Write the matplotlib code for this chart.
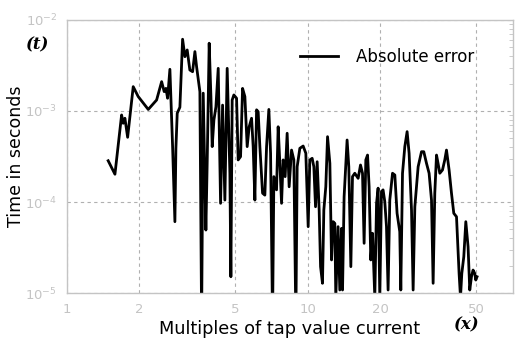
import numpy as np
import matplotlib.pyplot as plt
from matplotlib.ticker import FixedLocator, NullFormatter, LogLocator

plt.rcParams['font.family'] = ['DejaVu Sans']
plt.rcParams['mathtext.default'] = 'regular'

# multiples of tap value current
mult = [1.483, 1.582, 1.686, 1.712, 1.740, 1.786, 1.884, 1.976, 2.175, 2.356,
        2.472, 2.533, 2.575, 2.617, 2.675, 2.745, 2.806, 2.833, 2.869, 2.943,
        3.020, 3.088, 3.156, 3.237, 3.323, 3.397, 3.452, 3.563, 3.587, 3.622,
        3.678, 3.773, 3.820, 3.894, 3.959, 4.008, 4.074, 4.153, 4.245, 4.342,
        4.426, 4.524, 4.625, 4.746, 4.791, 4.851, 4.930, 5.059, 5.137, 5.256,
        5.358, 5.477, 5.599, 5.707, 5.839, 5.929, 6.026, 6.125, 6.219, 6.321,
        6.486, 6.630, 6.739, 6.888, 7.002, 7.136, 7.226, 7.413, 7.528, 7.651,
        7.777, 7.896, 8.049, 8.204, 8.362, 8.556, 8.746, 8.916, 9.028, 9.262,
        9.559, 9.808, 10.03, 10.19, 10.42, 10.59, 10.76, 10.93, 11.14, 11.29,
        11.50, 11.65, 11.87, 12.07, 12.34, 12.54, 12.73, 12.94, 13.06, 13.35,
        13.57, 13.80, 13.93, 14.14, 14.55, 14.79, 15.08, 15.32, 15.66, 16.17,
        16.54, 16.86, 17.12, 17.40, 17.69, 17.96, 18.25, 18.55, 18.96, 19.28,
        19.57, 19.89, 20.21, 20.52, 20.86, 21.20, 21.53, 21.88, 22.46, 22.96,
        23.46, 24.07, 24.31, 24.71, 25.26, 25.82, 26.32, 26.93, 27.35, 27.80,
        28.69, 29.63, 30.28, 31.08, 31.86, 32.60, 33.11, 33.64, 34.20, 34.71,
        35.29, 36.21, 37.01, 37.62, 38.57, 39.46, 40.34, 41.40, 42.44, 43.01,
        43.55, 44.39, 45.25, 46.24, 46.99, 47.76, 48.50, 49.30, 49.77, 50.38]

# absolute error, seconds
abs_err = [2.84e-4, 2.02e-4, 9.04e-4, 7.33e-4, 8.32e-4, 5.14e-4, 1.85e-3, 1.44e-3, 1.04e-3, 1.32e-3,
           2.10e-3, 1.63e-3, 1.77e-3, 1.38e-3, 2.87e-3, 4.06e-4, 6.08e-5, 3.89e-4, 9.44e-4, 1.10e-3,
           6.14e-3, 3.95e-3, 4.68e-3, 2.82e-3, 2.70e-3, 4.49e-3, 3.07e-3, 1.63e-3, 1.30e-4, 5.0e-6,
           1.57e-3, 4.92e-5, 2.66e-4, 5.55e-3, 1.44e-3, 4.06e-4, 7.96e-4, 1.11e-3, 2.94e-3, 9.68e-5,
           1.16e-3, 1.05e-4, 2.94e-3, 2.07e-4, 1.51e-5, 1.32e-3, 1.50e-3, 1.38e-3, 2.90e-4, 3.15e-4,
           1.77e-3, 1.44e-3, 4.06e-4, 6.71e-4, 8.32e-4, 4.06e-4, 1.05e-4, 1.03e-3, 9.82e-4, 4.06e-4,
           1.25e-4, 1.19e-4, 4.06e-4, 1.04e-3, 3.43e-4, 5.0e-6, 1.90e-4, 1.36e-4, 6.71e-4, 2.66e-4,
           9.68e-5, 2.90e-4, 1.90e-4, 5.69e-4, 1.47e-4, 3.72e-4, 2.90e-4, 5.0e-6, 2.44e-4, 3.89e-4,
           4.12e-4, 3.43e-4, 5.36e-5, 2.90e-4, 3.02e-4, 2.44e-4, 8.87e-5, 2.77e-4, 8.17e-5, 1.95e-5,
           1.28e-5, 8.17e-5, 1.47e-4, 5.22e-4, 2.66e-4, 2.31e-5, 6.08e-5, 5.83e-5, 9.0e-6, 5.36e-5,
           1.08e-5, 5.14e-5, 1.08e-5, 1.14e-4, 4.80e-4, 2.44e-4, 1.95e-5, 1.90e-4, 2.07e-4, 1.82e-4,
           2.55e-4, 2.07e-4, 3.52e-5, 2.90e-4, 3.28e-4, 1.47e-4, 2.31e-5, 4.53e-5, 9.0e-6, 9.68e-5,
           1.42e-4, 9.0e-6, 1.30e-4, 1.36e-4, 1.01e-4, 5.36e-5, 1.08e-5, 1.05e-4, 2.07e-4, 1.98e-4,
           7.52e-5, 4.72e-5, 1.08e-5, 2.07e-4, 4.06e-4, 5.93e-4, 3.43e-4, 8.17e-5, 1.08e-5, 8.87e-5,
           2.44e-4, 3.57e-4, 3.57e-4, 2.66e-4, 2.07e-4, 1.05e-4, 1.28e-5, 1.25e-4, 3.28e-4, 2.66e-4,
           2.07e-4, 2.25e-4, 2.90e-4, 3.72e-4, 2.25e-4, 1.25e-4, 7.52e-5, 6.89e-5, 1.64e-5, 9.0e-6,
           1.64e-5, 2.51e-5, 6.08e-5, 3.23e-5, 1.08e-5, 1.51e-5, 1.79e-5, 1.64e-5, 1.39e-5, 1.51e-5]

xticks = [1, 2, 5, 10, 20, 50]
xticklabels = ['1', '2', '5', '10', '20', '50']

grey = '#c4c4c4'

fig = plt.figure(figsize=(5.15, 3.38), dpi=100)
ax = fig.add_axes([0.130, 0.133, 0.866, 0.808])

ax.plot(mult, abs_err, color='black', lw=2.0, label='Absolute error')

ax.set_xscale('log')
ax.set_yscale('log')
ax.set_xlim(1, 71)
ax.set_ylim(1e-5, 1e-2)

ax.xaxis.set_major_locator(FixedLocator(xticks))
ax.set_xticklabels(xticklabels)
ax.xaxis.set_minor_formatter(NullFormatter())
ax.xaxis.set_minor_locator(FixedLocator([]))
ax.yaxis.set_major_locator(LogLocator(base=10, numticks=10))
ax.yaxis.set_minor_locator(LogLocator(base=10, subs=np.arange(2, 10), numticks=10))
ax.yaxis.set_minor_formatter(NullFormatter())

ax.grid(True, which='major', ls=(0, (3, 3)), color='#b0b0b0', lw=0.8)
for s in ax.spines.values():
    s.set_color(grey)
    s.set_linewidth(1.0)

ax.tick_params(axis='both', which='major', length=0, colors='#c4c4c4',
               labelsize=9.5, pad=7)
ax.tick_params(axis='y', which='minor', length=3, color=grey,
               direction='in', left=False, right=True)

ax.set_xlabel('Multiples of tap value current', fontsize=12.8, labelpad=3)
ax.set_ylabel('Time in seconds', fontsize=12.5)
ax.yaxis.set_label_coords(-0.095, 0.5)

fig.text(0.074, 0.855, '(t)', fontsize=12, family='DejaVu Serif',
         fontstyle='italic', fontweight='bold', ha='center')
fig.text(0.907, 0.025, '(x)', fontsize=12, family='DejaVu Serif',
         fontstyle='italic', fontweight='bold', ha='center')

ax.legend(loc='upper right', frameon=False, fontsize=12,
          handlelength=2.3, handletextpad=1.1, bbox_to_anchor=(0.948, 0.952))

plt.savefig('out.png', dpi=100)
